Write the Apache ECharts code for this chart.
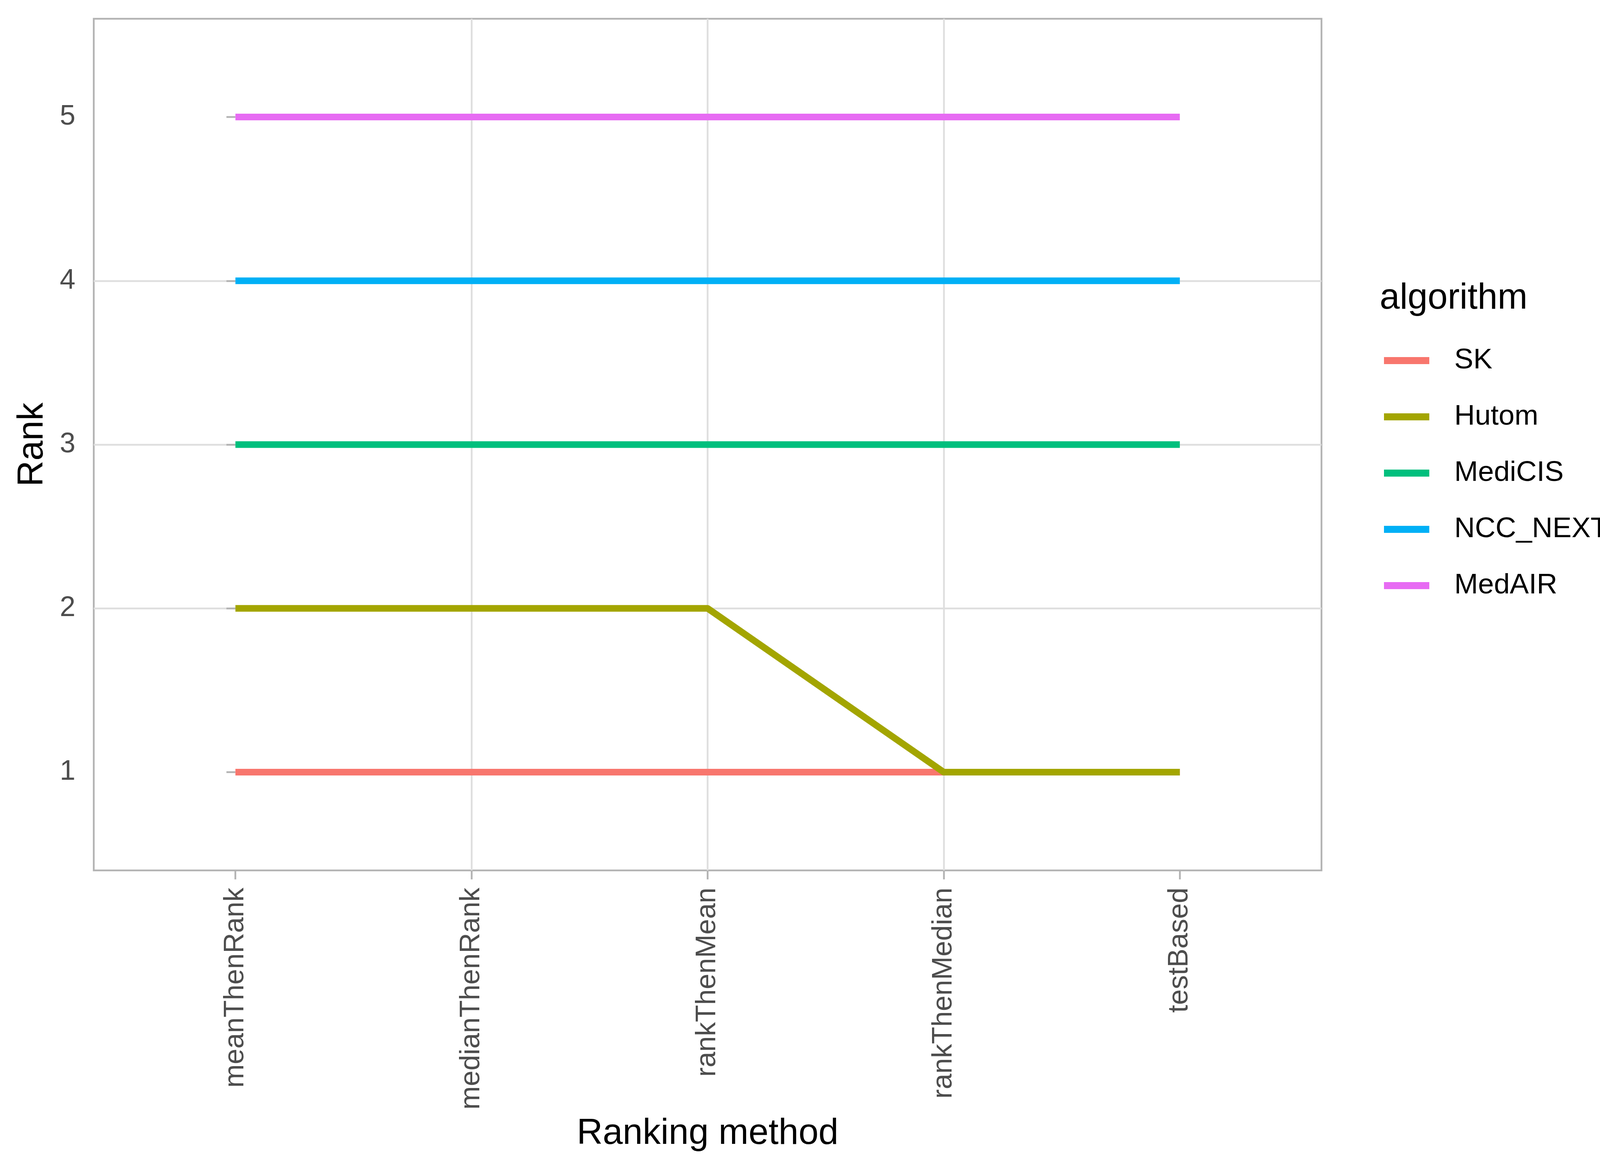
<!DOCTYPE html>
<html>
<head>
<meta charset="utf-8">
<script src="https://cdn.jsdelivr.net/npm/echarts@6/dist/echarts.min.js"></script>
<style>
  html, body { margin: 0; padding: 0; background: #fff; }
  #chart { width: 4200px; height: 3000px; }
</style>
</head>
<body>
<div id="chart"></div>
<script>
// ranking methods on the x axis
const methods = ['meanThenRank', 'medianThenRank', 'rankThenMean', 'rankThenMedian', 'testBased'];
const rankTicks = [1, 2, 3, 4, 5];

// rank of each algorithm per method
const algorithms = ['SK', 'Hutom', 'MediCIS', 'NCC_NEXT', 'MedAIR'];
const rankSK = [1, 1, 1, 1, 1];
const rankHutom = [2, 2, 2, 1, 1];
const rankMediCIS = [3, 3, 3, 3, 3];
const rankNCC = [4, 4, 4, 4, 4];
const rankMedAIR = [5, 5, 5, 5, 5];
const colors = ['#F8766D', '#A3A500', '#00BF7D', '#00B0F6', '#E76BF3'];

const ranks = [rankSK, rankHutom, rankMediCIS, rankNCC, rankMedAIR];
const font = 'Liberation Sans';
const grey = '#b3b3b3';

const chart = echarts.init(document.getElementById('chart'), null, { renderer: 'canvas' });

const series = algorithms.map((name, i) => ({
  name,
  type: 'line',
  data: ranks[i].map((v, j) => [j, v]),
  symbol: 'none',
  color: colors[i],
  lineStyle: { width: 17, color: colors[i], cap: 'butt', join: 'round' },
  z: 2 + i,
}));

chart.setOption({
  animation: false,
  backgroundColor: '#fff',
  textStyle: { fontFamily: font },
  title: {
    text: 'algorithm',
    left: 3527,
    top: 714,
    textStyle: { fontFamily: font, fontSize: 92, fontWeight: 'normal', color: '#000', lineHeight: 92 },
  },
  legend: {
    orient: 'vertical',
    left: 3538,
    top: 878,
    itemWidth: 116,
    itemHeight: 18,
    itemGap: 64,
    icon: 'rect',
    data: algorithms,
    textStyle: { fontFamily: font, fontSize: 73, color: '#000', lineHeight: 80, padding: [0, 0, 0, 59] },
  },
  grid: {
    left: 240,
    right: 817,
    top: 48,
    bottom: 772,
    show: true,
    borderColor: grey,
    borderWidth: 4.5,
    backgroundColor: '#fff',
  },
  xAxis: {
    type: 'value',
    min: -0.6,
    max: 4.6,
    name: 'Ranking method',
    nameLocation: 'middle',
    nameGap: 629,
    nameTextStyle: { fontFamily: font, fontSize: 92, color: '#000' },
    axisLine: { show: false },
    axisTick: { show: true, length: 23, customValues: [0, 1, 2, 3, 4], lineStyle: { color: grey, width: 4.5 } },
    axisLabel: {
      customValues: [0, 1, 2, 3, 4],
      rotate: 90,
      margin: 44,
      fontFamily: font,
      fontSize: 72,
      color: '#4d4d4d',
      formatter: (v) => methods[Math.round(v)] || '',
    },
    splitLine: { show: true, showMinLine: false, showMaxLine: false, lineStyle: { color: '#dedede', width: 4.5 } },
  },
  yAxis: {
    type: 'value',
    min: 0.4,
    max: 5.6,
    name: 'Rank',
    nameLocation: 'middle',
    nameGap: 110,
    nameTextStyle: { fontFamily: font, fontSize: 92, color: '#000' },
    axisLine: { show: false },
    axisTick: { show: true, length: 23, customValues: rankTicks, lineStyle: { color: grey, width: 4.5 } },
    axisLabel: {
      customValues: rankTicks,
      margin: 47,
      fontFamily: font,
      fontSize: 72,
      color: '#4d4d4d',
      formatter: (v) => String(v),
    },
    splitLine: { show: true, showMinLine: false, showMaxLine: false, lineStyle: { color: '#dedede', width: 4.5 } },
  },
  series,
});
</script>
</body>
</html>
